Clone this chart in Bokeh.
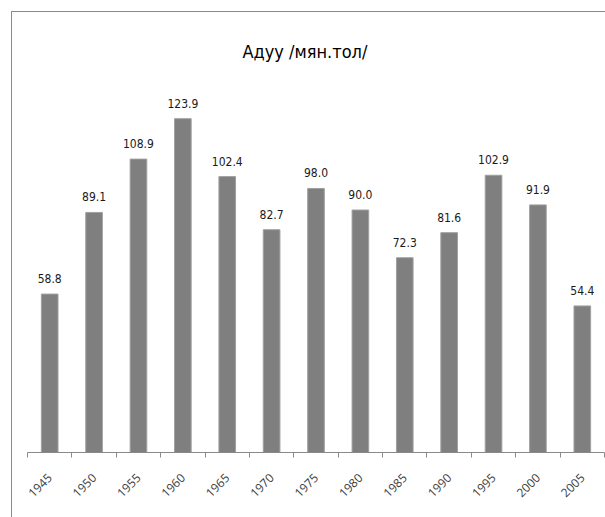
import math
from bokeh.plotting import figure
from bokeh.models import Range1d, FixedTicker, ColumnDataSource, LabelSet
from bokeh.core.properties import value
from bokeh.embed import file_html
from bokeh.resources import INLINE

years = ["1945", "1950", "1955", "1960", "1965", "1970", "1975",
         "1980", "1985", "1990", "1995", "2000", "2005"]
values = [58.8, 89.1, 108.9, 123.9, 102.4, 82.7, 98.0, 90.0, 72.3, 81.6, 102.9, 91.9, 54.4]
title_text = "Адуу /мян.тол/"

labels = [f"{v:.1f}" for v in values]
xs = [i + 0.5 for i in range(len(years))]
src = ColumnDataSource(dict(x=xs, top=values, label=labels))

NARROW = "DejaVu Sans Condensed"

p = figure(width=594, height=506, output_backend="svg", toolbar_location=None,
           x_range=Range1d(0, len(years)), y_range=Range1d(0, 137.7),
           margin=(11, 0, 0, 11),
           min_border_left=15, min_border_right=2, min_border_top=69, min_border_bottom=66)
p.styles = {"border-top": "1px solid #8a8a8a", "border-left": "1px solid #8a8a8a"}

p.title.text = title_text
p.title.align = "left"
p.title.text_font = NARROW
p.title.text_font_size = "18px"
p.title.text_font_style = "normal"
p.title.text_color = "#000000"
p.title.standoff = 39
p.title.offset = 215

p.vbar(x="x", top="top", width=0.375, bottom=0, source=src,
       fill_color="#7f7f7f", line_color="#a0a0a0", line_width=1)

ls = LabelSet(x="x", y="top", text="label", source=src, y_offset=11,
              text_align="center", text_baseline="alphabetic",
              text_font=value(NARROW), text_font_size=value("12px"),
              text_color="#1a1a1a")
p.add_layout(ls)

p.yaxis.visible = False
p.xgrid.visible = False
p.ygrid.visible = False
p.outline_line_color = None

ax = p.xaxis[0]
ax.ticker = FixedTicker(ticks=xs, minor_ticks=list(range(len(years) + 1)))
ax.major_label_overrides = {x: y for x, y in zip(xs, years)}
ax.major_tick_line_color = None
ax.minor_tick_line_color = "#8a8a8a"
ax.minor_tick_in = 0
ax.minor_tick_out = 5
ax.axis_line_color = "#8a8a8a"
ax.major_label_orientation = math.pi / 4
ax.major_label_text_font = "Open Sans"
ax.major_label_text_font_size = "12px"
ax.major_label_text_color = "#404040"
ax.major_label_standoff = 17

open("out.html", "w").write(file_html(p, INLINE))
